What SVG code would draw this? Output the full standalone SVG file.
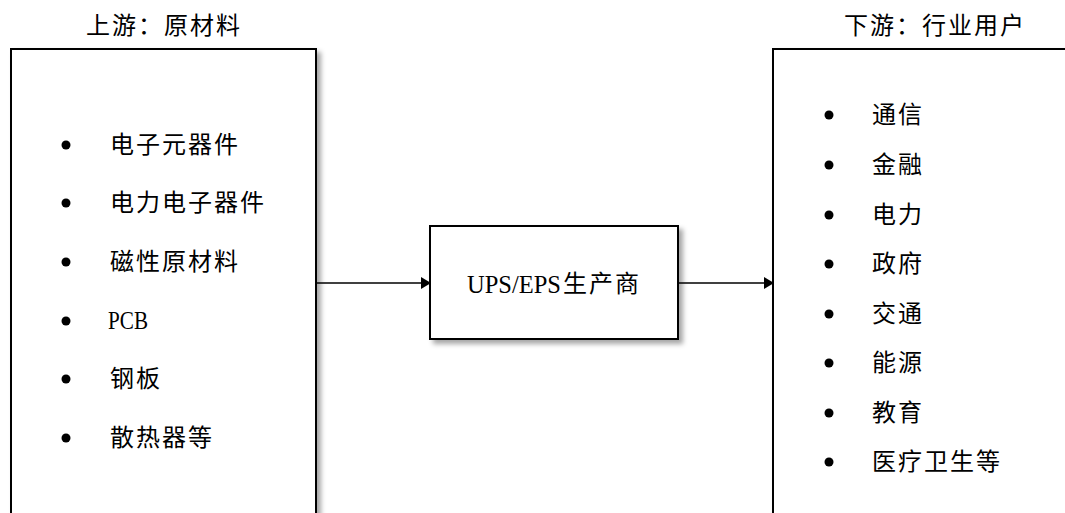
<svg xmlns="http://www.w3.org/2000/svg" width="1065" height="513" viewBox="0 0 1065 513">
<style>
.box{fill:#fff;stroke:#000;stroke-width:2}
.t{font-family:"Liberation Serif","Noto Sans CJK SC",serif;font-size:24px;letter-spacing:2px;fill:#000}
.c{text-anchor:middle}
.lat{letter-spacing:0;font-size:26px}
.line{stroke:#000;stroke-width:1.5;fill:none}
</style>
<defs>
<filter id="sh" x="-10%" y="-10%" width="130%" height="130%">
<feDropShadow dx="4" dy="4" stdDeviation="2.5" flood-color="#000" flood-opacity="0.35"/>
</filter>
<marker id="arr" markerWidth="10" markerHeight="12" refX="9" refY="6" orient="auto" markerUnits="userSpaceOnUse">
<path d="M0,0 L10,6 L0,12 Z" fill="#000"/>
</marker>
</defs>
<rect width="1065" height="513" fill="#fff"/>
<text class="t c" x="164" y="34">上游：原材料</text>
<text class="t c" x="935" y="34">下游：行业用户</text>
<g id="upstream">
<rect class="box" x="11" y="49" width="305" height="480" filter="url(#sh)"/>
<g class="t">
<circle cx="66" cy="145" r="4.5"/><text x="110" y="153">电子元器件</text>
<circle cx="66" cy="203" r="4.5"/><text x="110" y="211">电力电子器件</text>
<circle cx="66" cy="262" r="4.5"/><text x="110" y="270">磁性原材料</text>
<circle cx="66" cy="321" r="4.5"/><text x="108" y="329" class="lat" textLength="40" lengthAdjust="spacingAndGlyphs">PCB</text>
<circle cx="66" cy="379" r="4.5"/><text x="110" y="387">钢板</text>
<circle cx="66" cy="438" r="4.5"/><text x="110" y="446">散热器等</text>
</g>
</g>
<g id="producer">
<rect class="box" x="430" y="226" width="248" height="113" filter="url(#sh)"/>
<text class="t lat" x="467" y="293" textLength="94" lengthAdjust="spacingAndGlyphs">UPS/EPS</text>
<text class="t" x="563" y="292">生产商</text>
</g>
<g id="downstream">
<rect class="box" x="773" y="49" width="320" height="480" filter="url(#sh)"/>
<g class="t">
<circle cx="829" cy="115" r="4.5"/><text x="872" y="123">通信</text>
<circle cx="829" cy="165" r="4.5"/><text x="872" y="173">金融</text>
<circle cx="829" cy="215" r="4.5"/><text x="872" y="223">电力</text>
<circle cx="829" cy="264" r="4.5"/><text x="872" y="272">政府</text>
<circle cx="829" cy="314" r="4.5"/><text x="872" y="322">交通</text>
<circle cx="829" cy="363" r="4.5"/><text x="872" y="371">能源</text>
<circle cx="829" cy="413" r="4.5"/><text x="872" y="421">教育</text>
<circle cx="829" cy="462" r="4.5"/><text x="872" y="470">医疗卫生等</text>
</g>
</g>
<g id="connectors">
<line class="line" x1="316" y1="283" x2="430" y2="283" marker-end="url(#arr)"/>
<line class="line" x1="678" y1="283" x2="773" y2="283" marker-end="url(#arr)"/>
</g>
</svg>
